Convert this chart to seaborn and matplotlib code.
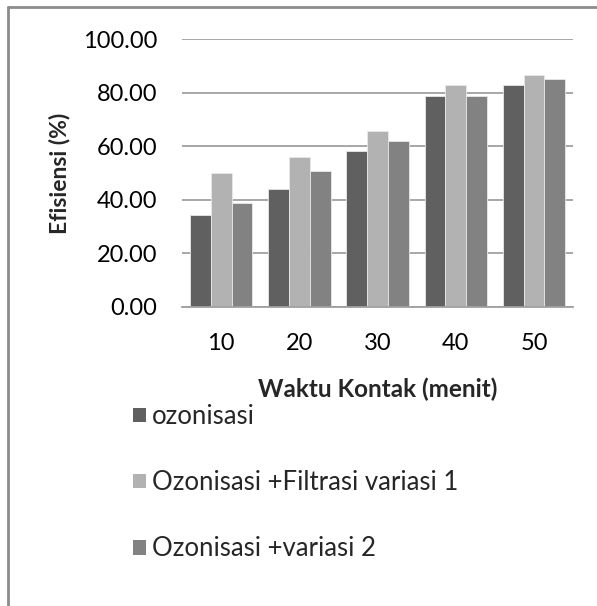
import matplotlib
matplotlib.use("Agg")
import matplotlib.pyplot as plt
from matplotlib.lines import Line2D
import pandas as pd
import seaborn as sns


## Data

waktu = ['10', '20', '30', '40', '50']
ozonisasi = [34.2, 43.9, 58.3, 78.8, 83.0]
filtrasi_v1 = [50.1, 56.1, 65.5, 83.0, 86.6]
variasi_2 = [38.8, 50.9, 61.9, 78.8, 85.0]

series_names = ['ozonisasi', 'Ozonisasi +Filtrasi variasi 1', 'Ozonisasi +variasi 2']
series_colors = ['#606060', '#b2b2b2', '#828282']

df = pd.DataFrame({
    'waktu': waktu * 3,
    'efisiensi': ozonisasi + filtrasi_v1 + variasi_2,
    'seri': [series_names[0]] * 5 + [series_names[1]] * 5 + [series_names[2]] * 5,
})

sns.set_style('white')
plt.rcParams['font.family'] = ['Lato', 'DejaVu Sans']

fig = plt.figure(figsize=(5.97, 6.06), dpi=100)
ax = fig.add_axes([0.305, 0.4934, 0.655, 0.4422])

sns.barplot(data=df, x='waktu', y='efisiensi', hue='seri', order=waktu,
            hue_order=series_names, palette=series_colors, width=0.8,
            edgecolor='#e8e8e8', linewidth=0.6, ax=ax, legend=True)

ax.set_ylim(0, 100)
ax.set_yticks([0, 20, 40, 60, 80, 100])
ax.set_yticklabels([f'{v:.2f}' for v in [0, 20, 40, 60, 80, 100]])
ax.yaxis.grid(True, color='#a0a0a0', linewidth=1.3)
ax.set_axisbelow(True)
for side in ['top', 'right', 'left']:
    ax.spines[side].set_visible(False)
ax.spines['bottom'].set_color('#a0a0a0')
ax.spines['bottom'].set_linewidth(1.3)
ax.tick_params(axis='both', length=0, labelsize=17, colors='#000000')
ax.tick_params(axis='y', pad=18)
ax.tick_params(axis='x', pad=19)

ax.set_xlabel('Waktu Kontak (menit)', fontsize=17.5, fontweight='bold', labelpad=17)
ax.set_ylabel('Efisiensi (%)', fontsize=16.5, fontweight='bold', labelpad=9)

leg = ax.legend(loc='upper left', bbox_to_anchor=(0.205, 0.350),
                bbox_transform=fig.transFigure, frameon=False, fontsize=18.5,
                handlelength=0.5, handleheight=0.5, handletextpad=0.25,
                labelspacing=1.6, borderaxespad=0)
for h in leg.legend_handles:
    h.set_edgecolor('none')

# outer chart frame
fig.add_artist(Line2D([8 / 597, 8 / 597], [0, 1 - 7 / 606], color='#8c8c8c', lw=2,
                      transform=fig.transFigure))
fig.add_artist(Line2D([8 / 597, 1], [1 - 7 / 606, 1 - 7 / 606], color='#8c8c8c', lw=2,
                      transform=fig.transFigure))

fig.savefig('out.png', dpi=100)
